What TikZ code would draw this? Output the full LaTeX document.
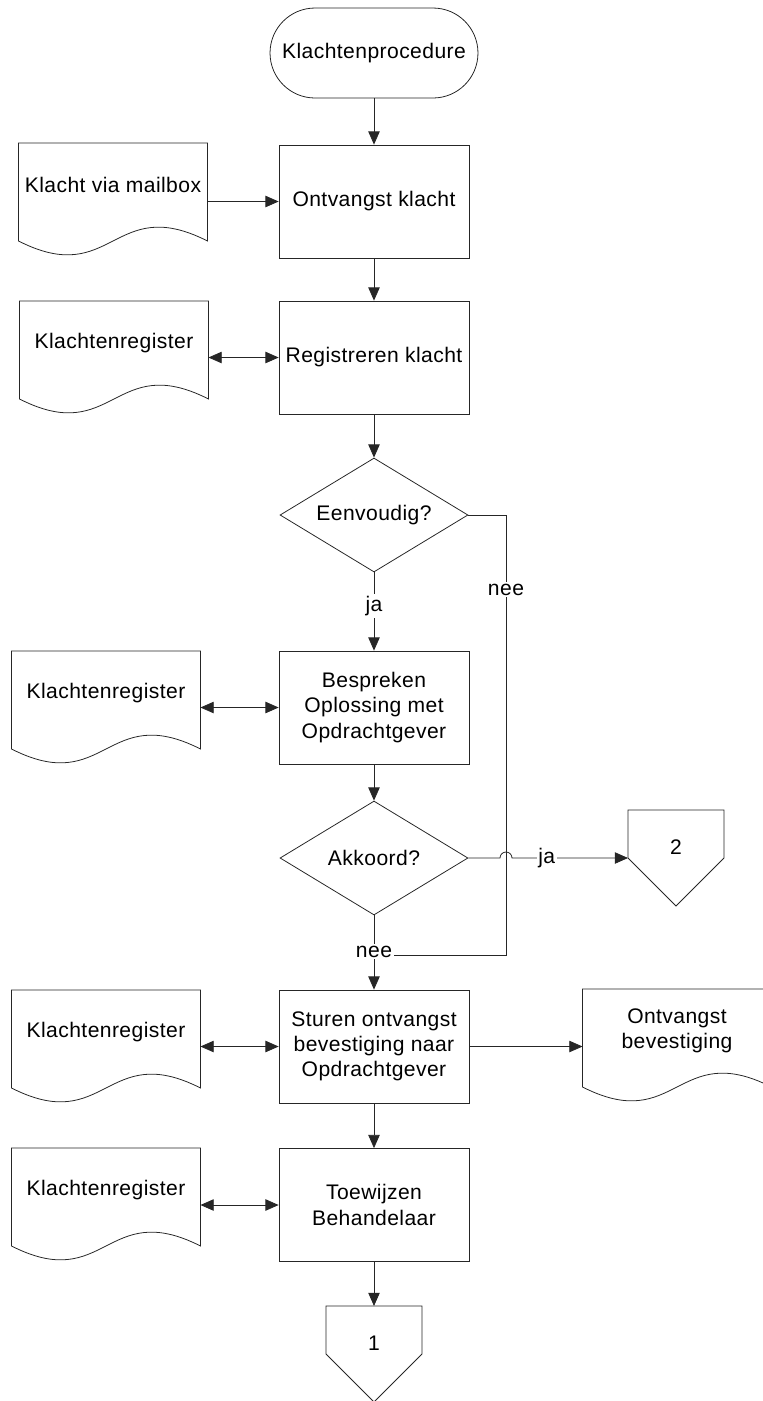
\documentclass[tikz,border=0pt]{standalone}
\usepackage{fontspec}
\setmainfont{Liberation Sans}[LetterSpace=2]
\usetikzlibrary{shapes.geometric, arrows.meta, calc}
\tikzset{%
	every process/.style={
		rectangle,
		draw,
		minimum width=3.8cm,
		minimum height=2.26cm,
		align=center
	},
	decision/.style={
		diamond,
		draw,
		minimum width=3.76cm,
		minimum height=2.28cm,
		shape aspect=1.65,
		inner sep=0pt
	},
	terminal/.style={
		rectangle,
		draw,
		rounded corners=0.9cm,
		minimum width=4.16cm,
		minimum height=1.8cm
	},
	paper/.style={
		rectangle,
		minimum width=3.78cm,
		minimum height=1.68cm,
		align=center,
		outer sep=0pt
	},
	offpage/.style={
		rectangle,
		minimum width=1.92cm,
		minimum height=0.96cm,
		inner sep=0pt,
		outer sep=0pt,
		text height=0.82cm,
		text depth=0pt
	},
	answer/.style={
		fill=white,
		inner sep=1pt
	},
}

\begin{document}
\begin{tikzpicture}[x=0.02cm, y=-0.02cm, >={Triangle[length=7.5pt,width=6.5pt]}, line width=0.45pt,
		draw=black!85, every node/.style={font=\fontsize{12}{14.4}\selectfont}]
		
		\useasboundingbox (0,0) rectangle (763,1401);
		
		% main column
		\node [terminal] (start) at (374,53) {Klachtenprocedure};
		\node [every process/.try] (ontvangst) at (374,201.5) {Ontvangst klacht};
		\node [every process/.try] (registreren) at (374,357.5) {Registreren klacht};
		\node [decision] (eenvoudig) at (374,515) {Eenvoudig?};
		\node [every process/.try] (bespreken) at (374,707.5) {Bespreken\\Oplossing met\\Opdrachtgever};
		\node [decision] (akkoord) at (374,858) {Akkoord?};
		\node [every process/.try] (sturen) at (374,1046.5) {Sturen ontvangst\\bevestiging naar\\Opdrachtgever};
		\node [every process/.try] (toewijzen) at (374,1205) {Toewijzen\\Behandelaar};
		\node [offpage] (con1) at (374,1330) {1};
		\node [offpage] (con2) at (676,834) {2};
		
		% documents
		\node [paper] (mailbox) at (113,185) {Klacht via mailbox};
		\node [paper] (register-1) at (114,343) {Klachtenregister};
		\node [paper] (register-2) at (106,693) {Klachtenregister};
		\node [paper] (register-3) at (106,1032) {Klachtenregister};
		\node [paper] (register-4) at (106,1190) {Klachtenregister};
		\node [paper] (bevestiging) at (677,1031) {Ontvangst\\bevestiging};
		
		\foreach \n in {mailbox, register-1, register-2, register-3, register-4, bevestiging}
		\draw (\n.north east) -- ($(\n.south east)+(0,14)$)
		.. controls ($(\n.south)+(0,-34)$) and ($(\n.south)+(0,62)$) .. ($(\n.south west)+(0,14)$)
		-- (\n.north west) -- cycle;
		
		\foreach \n in {con1, con2}
		\draw (\n.south west) -- (\n.north west) -- (\n.north east) -- (\n.south east)
		-- ($(\n.south)+(0,48)$) -- cycle;
		
		% flow
		\draw [->] (start) -- (ontvangst);
		\draw [->] (mailbox.east |- ontvangst) -- (ontvangst);
		\draw [->] (ontvangst) -- (registreren);
		\draw [<->] (register-1.east |- registreren) -- (registreren);
		\draw [->] (registreren) -- (eenvoudig);
		\draw [->] (eenvoudig) -- node [answer, pos=0.43] {ja} (bespreken);
		\draw [<->] (register-2.east |- bespreken) -- (bespreken);
		\draw [->] (bespreken) -- (akkoord);
		
		% nee branch of Eenvoudig?
		\coordinate (nee-turn) at (506,955);
		\coordinate (nee-join) at (374,955);
		\draw (eenvoudig.east) -| node [answer, pos=0.585] {nee} (nee-turn) -- (nee-join);
		
		\draw [->] (akkoord) -- node [answer, pos=0.49] {nee} (sturen);
		\coordinate (hop) at (500,858);
		\draw [->] (akkoord.east) -- (hop) arc (180:360:6)
		-- node [answer, pos=0.3] {ja} (con2.south west);
		
		\draw [<->] (register-3.east |- sturen) -- (sturen);
		\draw [->] (sturen) -- (bevestiging.west |- sturen);
		\draw [->] (sturen) -- (toewijzen);
		\draw [<->] (register-4.east |- toewijzen) -- (toewijzen);
		\draw [->] (toewijzen) -- (con1);
		
\end{tikzpicture}
\end{document}
